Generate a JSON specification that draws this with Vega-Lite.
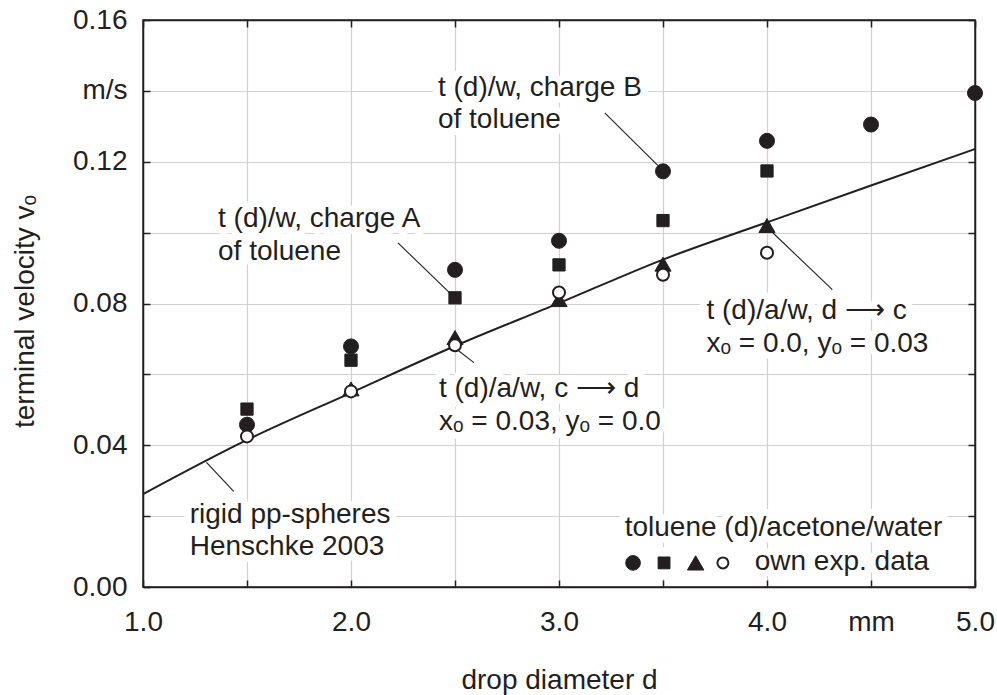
{
  "$schema": "https://vega.github.io/schema/vega-lite/v6.json",
  "width": 832,
  "height": 567,
  "autosize": "none",
  "padding": {"left": 143, "top": 20, "right": 22, "bottom": 108},
  "background": "white",
  "config": {
    "font": "Liberation Sans",
    "view": {"stroke": "#231f20", "strokeWidth": 1.5}
  },
  "datasets": {
    "points": [
      {"series": "t (d)/w, charge B", "d": 1.5, "v": 0.0458},
      {"series": "t (d)/w, charge B", "d": 2.0, "v": 0.0679},
      {"series": "t (d)/w, charge B", "d": 2.5, "v": 0.0895},
      {"series": "t (d)/w, charge B", "d": 3.0, "v": 0.0977},
      {"series": "t (d)/w, charge B", "d": 3.5, "v": 0.1173},
      {"series": "t (d)/w, charge B", "d": 4.0, "v": 0.1259},
      {"series": "t (d)/w, charge B", "d": 4.5, "v": 0.1305},
      {"series": "t (d)/w, charge B", "d": 5.0, "v": 0.1394},
      {"series": "t (d)/w, charge A", "d": 1.5, "v": 0.0502},
      {"series": "t (d)/w, charge A", "d": 2.0, "v": 0.0640},
      {"series": "t (d)/w, charge A", "d": 2.5, "v": 0.0816},
      {"series": "t (d)/w, charge A", "d": 3.0, "v": 0.0909},
      {"series": "t (d)/w, charge A", "d": 3.5, "v": 0.1034},
      {"series": "t (d)/w, charge A", "d": 4.0, "v": 0.1174},
      {"series": "t (d)/a/w, d→c", "d": 2.0, "v": 0.0559},
      {"series": "t (d)/a/w, d→c", "d": 2.5, "v": 0.0704},
      {"series": "t (d)/a/w, d→c", "d": 3.0, "v": 0.0811},
      {"series": "t (d)/a/w, d→c", "d": 3.5, "v": 0.0911},
      {"series": "t (d)/a/w, d→c", "d": 4.0, "v": 0.1020},
      {"series": "t (d)/a/w, c→d", "d": 1.5, "v": 0.0425},
      {"series": "t (d)/a/w, c→d", "d": 2.0, "v": 0.0552},
      {"series": "t (d)/a/w, c→d", "d": 2.5, "v": 0.0682},
      {"series": "t (d)/a/w, c→d", "d": 3.0, "v": 0.0831},
      {"series": "t (d)/a/w, c→d", "d": 3.5, "v": 0.0881},
      {"series": "t (d)/a/w, c→d", "d": 4.0, "v": 0.0943}
    ],
    "curve": [
      {"d": 1.0, "v": 0.0262},
      {"d": 1.5, "v": 0.0415},
      {"d": 2.0, "v": 0.0548},
      {"d": 2.5, "v": 0.0680},
      {"d": 3.0, "v": 0.0801},
      {"d": 3.5, "v": 0.0924},
      {"d": 4.0, "v": 0.1029},
      {"d": 4.5, "v": 0.1133},
      {"d": 5.0, "v": 0.1236}
    ],
    "leaders": [
      {"id": "B", "d": 3.220, "v": 0.1338},
      {"id": "B", "d": 3.476, "v": 0.1189},
      {"id": "A", "d": 2.226, "v": 0.0971},
      {"id": "A", "d": 2.4745, "v": 0.0830},
      {"id": "rigid", "d": 1.305, "v": 0.0352},
      {"id": "rigid", "d": 1.436, "v": 0.0270},
      {"id": "cd", "d": 2.4985, "v": 0.0675},
      {"id": "cd", "d": 2.591, "v": 0.0633},
      {"id": "dc", "d": 4.029, "v": 0.0999},
      {"id": "dc", "d": 4.314, "v": 0.0839}
    ],
    "notes": [
      {"text": "t (d)/w, charge B\nof toluene", "d": 2.418, "v": 0.1386},
      {"text": "t (d)/w, charge A\nof toluene", "d": 1.3606, "v": 0.1015},
      {"text": "t (d)/a/w, c ⟶ d\nxₒ = 0.03, yₒ = 0.0", "d": 2.423, "v": 0.0536},
      {"text": "t (d)/a/w, d ⟶ c\nxₒ = 0.0, yₒ = 0.03", "d": 3.709, "v": 0.0756},
      {"text": "rigid pp-spheres\nHenschke 2003", "d": 1.2245, "v": 0.0182},
      {"text": "toluene (d)/acetone/water", "d": 3.316, "v": 0.0143},
      {"text": "own exp. data", "d": 3.941, "v": 0.0049}
    ],
    "legendsym": [
      {"series": "t (d)/w, charge B", "d": 3.356, "v": 0.0068},
      {"series": "t (d)/w, charge A", "d": 3.505, "v": 0.0068},
      {"series": "t (d)/a/w, d→c", "d": 3.657, "v": 0.0068},
      {"series": "t (d)/a/w, c→d", "d": 3.788, "v": 0.0068}
    ]
  },
  "layer": [
    {
      "data": {"name": "notes"},
      "mark": {"type": "text", "align": "left", "baseline": "alphabetic", "font": "Liberation Sans", "fontSize": 28, "lineBreak": "\n", "lineHeight": 32.5, "fill": "white", "stroke": "white", "strokeWidth": 14, "strokeJoin": "round"},
      "encoding": {
        "x": {"field": "d", "type": "quantitative", "scale": {"domain": [1, 5], "nice": false, "zero": false}, "axis": null},
        "y": {"field": "v", "type": "quantitative", "scale": {"domain": [0, 0.16], "nice": false, "zero": false}, "axis": null},
        "text": {"field": "text", "type": "nominal"}
      }
    },
    {
      "data": {"name": "legendsym"},
      "mark": {"type": "point", "shape": "circle", "size": 1000, "filled": true, "fill": "white", "opacity": 1},
      "encoding": {
        "x": {"field": "d", "type": "quantitative", "axis": null},
        "y": {"field": "v", "type": "quantitative", "axis": null}
      }
    },
    {
      "data": {"name": "leaders"},
      "mark": {"type": "line", "stroke": "#231f20", "strokeWidth": 1.1},
      "encoding": {
        "x": {"field": "d", "type": "quantitative", "axis": null},
        "y": {"field": "v", "type": "quantitative", "axis": null},
        "detail": {"field": "id", "type": "nominal"}
      }
    },
    {
      "data": {"name": "curve"},
      "mark": {"type": "line", "stroke": "#231f20", "strokeWidth": 2, "interpolate": "monotone"},
      "encoding": {
        "x": {
          "field": "d", "type": "quantitative",
          "axis": {
            "orient": "bottom",
            "values": [1, 1.5, 2, 2.5, 3, 3.5, 4, 4.5, 5],
            "labelExpr": "datum.value == 4.5 ? 'mm' : (datum.value % 1 == 0 ? format(datum.value, '.1f') : '')",
            "grid": true, "gridColor": "#d0d0d0", "gridWidth": 1.2,
            "tickSize": -7, "tickColor": "#231f20", "tickWidth": 1.5,
            "domainColor": "#231f20", "domainWidth": 1.5,
            "labelFont": "Liberation Sans", "labelFontSize": 28, "labelColor": "#231f20",
            "labelPadding": 28, "labelFlush": false, "labelOverlap": false, "labelBound": false,
            "title": "drop diameter d", "titleFont": "Liberation Sans", "titleFontSize": 28,
            "titleFontWeight": "normal", "titleColor": "#231f20", "titleY": 101, "titleBaseline": "alphabetic"
          }
        },
        "y": {
          "field": "v", "type": "quantitative",
          "axis": {
            "orient": "left",
            "values": [0, 0.02, 0.04, 0.06, 0.08, 0.1, 0.12, 0.14, 0.16],
            "labelExpr": "abs(datum.value - 0.14) < 1e-6 ? 'm/s' : (abs(datum.value * 25 - round(datum.value * 25)) < 1e-6 ? format(datum.value, '.2f') : '')",
            "grid": true, "gridColor": "#d0d0d0", "gridWidth": 1.2,
            "tickSize": -7, "tickColor": "#231f20", "tickWidth": 1.5,
            "domainColor": "#231f20", "domainWidth": 1.5,
            "labelFont": "Liberation Sans", "labelFontSize": 28, "labelColor": "#231f20",
            "labelPadding": 23, "labelOverlap": false, "labelBound": false, "labelFlush": false,
            "title": "terminal velocity  vₒ", "titleFont": "Liberation Sans", "titleFontSize": 28,
            "titleFontWeight": "normal", "titleColor": "#231f20",
            "titleX": -110, "titleY": 291, "titleAngle": -90, "titleAlign": "center", "titleBaseline": "alphabetic"
          }
        }
      }
    },
    {
      "data": {"name": "points"},
      "transform": [{"filter": "datum.series == 't (d)/w, charge B'"}],
      "mark": {"type": "point", "shape": "circle", "size": 225, "filled": true, "fill": "#231f20", "stroke": "#231f20", "strokeWidth": 1, "opacity": 1},
      "encoding": {
        "x": {
          "field": "d", "type": "quantitative",
          "axis": {"orient": "top", "values": [1, 1.5, 2, 2.5, 3, 3.5, 4, 4.5, 5], "labels": false, "grid": false, "tickSize": -7, "tickColor": "#231f20", "tickWidth": 1.5, "domainColor": "#231f20", "domainWidth": 1.5, "title": null}
        },
        "y": {
          "field": "v", "type": "quantitative",
          "axis": {"orient": "right", "values": [0, 0.02, 0.04, 0.06, 0.08, 0.1, 0.12, 0.14, 0.16], "labels": false, "grid": false, "tickSize": -7, "tickColor": "#231f20", "tickWidth": 1.5, "domainColor": "#231f20", "domainWidth": 1.5, "title": null}
        }
      }
    },
    {
      "data": {"name": "points"},
      "transform": [{"filter": "datum.series == 't (d)/w, charge A'"}],
      "mark": {"type": "point", "shape": "square", "size": 150, "filled": true, "fill": "#231f20", "stroke": "#231f20", "strokeWidth": 1, "opacity": 1},
      "encoding": {
        "x": {"field": "d", "type": "quantitative", "axis": null},
        "y": {"field": "v", "type": "quantitative", "axis": null}
      }
    },
    {
      "data": {"name": "points"},
      "transform": [{"filter": "datum.series == 't (d)/a/w, d→c'"}],
      "mark": {"type": "point", "shape": "triangle-up", "size": 260, "filled": true, "fill": "#231f20", "stroke": "#231f20", "strokeWidth": 1, "opacity": 1},
      "encoding": {
        "x": {"field": "d", "type": "quantitative", "axis": null},
        "y": {"field": "v", "type": "quantitative", "axis": null}
      }
    },
    {
      "data": {"name": "points"},
      "transform": [{"filter": "datum.series == 't (d)/a/w, c→d'"}],
      "mark": {"type": "point", "shape": "circle", "size": 144, "filled": false, "fill": "white", "stroke": "#231f20", "strokeWidth": 2, "opacity": 1, "fillOpacity": 1},
      "encoding": {
        "x": {"field": "d", "type": "quantitative", "axis": null},
        "y": {"field": "v", "type": "quantitative", "axis": null}
      }
    },
    {
      "data": {"name": "legendsym"},
      "transform": [{"filter": "datum.series == 't (d)/w, charge B'"}],
      "mark": {"type": "point", "shape": "circle", "size": 215, "filled": true, "fill": "#231f20", "stroke": "#231f20", "strokeWidth": 1, "opacity": 1},
      "encoding": {
        "x": {"field": "d", "type": "quantitative", "axis": null},
        "y": {"field": "v", "type": "quantitative", "axis": null}
      }
    },
    {
      "data": {"name": "legendsym"},
      "transform": [{"filter": "datum.series == 't (d)/w, charge A'"}],
      "mark": {"type": "point", "shape": "square", "size": 140, "filled": true, "fill": "#231f20", "stroke": "#231f20", "strokeWidth": 1, "opacity": 1},
      "encoding": {
        "x": {"field": "d", "type": "quantitative", "axis": null},
        "y": {"field": "v", "type": "quantitative", "axis": null}
      }
    },
    {
      "data": {"name": "legendsym"},
      "transform": [{"filter": "datum.series == 't (d)/a/w, d→c'"}],
      "mark": {"type": "point", "shape": "triangle-up", "size": 270, "filled": true, "fill": "#231f20", "stroke": "#231f20", "strokeWidth": 1, "opacity": 1},
      "encoding": {
        "x": {"field": "d", "type": "quantitative", "axis": null},
        "y": {"field": "v", "type": "quantitative", "axis": null}
      }
    },
    {
      "data": {"name": "legendsym"},
      "transform": [{"filter": "datum.series == 't (d)/a/w, c→d'"}],
      "mark": {"type": "point", "shape": "circle", "size": 120, "filled": false, "fill": "white", "stroke": "#231f20", "strokeWidth": 2, "opacity": 1, "fillOpacity": 1},
      "encoding": {
        "x": {"field": "d", "type": "quantitative", "axis": null},
        "y": {"field": "v", "type": "quantitative", "axis": null}
      }
    },
    {
      "data": {"name": "notes"},
      "mark": {"type": "text", "align": "left", "baseline": "alphabetic", "font": "Liberation Sans", "fontSize": 28, "lineBreak": "\n", "lineHeight": 32.5, "fill": "#231f20"},
      "encoding": {
        "x": {"field": "d", "type": "quantitative", "axis": null},
        "y": {"field": "v", "type": "quantitative", "axis": null},
        "text": {"field": "text", "type": "nominal"}
      }
    }
  ],
  "resolve": {"axis": {"x": "independent", "y": "independent"}}
}
